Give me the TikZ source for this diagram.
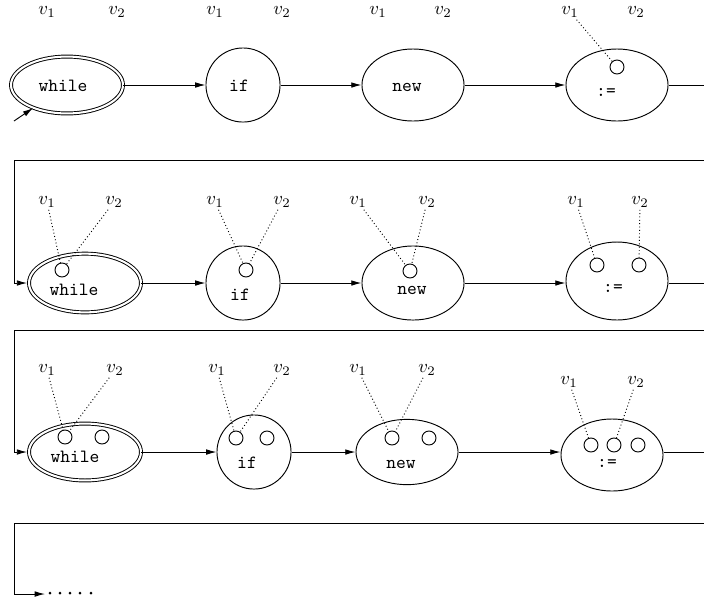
\documentclass[tikz,border=0pt]{standalone}
\usetikzlibrary{arrows.meta,shapes.geometric}
\begin{document}
\begin{tikzpicture}[x=0.536pt,y=-0.536pt,
  line width=0.5pt,
  arr/.style={-{Latex[length=5.5pt,width=3pt]}},
  stmt/.style={draw,ellipse,inner sep=0pt,minimum width=54.7pt,minimum height=38.6pt},
  loopnode/.style={draw,double,double distance=1.1pt,ellipse,inner sep=0pt,
    minimum width=60pt,minimum height=30.5pt},
  branch/.style={draw,circle,inner sep=0pt,minimum size=39.7pt},
  slot/.style={draw,circle,inner sep=0pt,minimum size=7.5pt},
  var/.style={inner sep=1pt},
  kw/.style={inner sep=0pt,font=\ttfamily},
  link/.style={dash pattern=on 0.5pt off 1.3pt}]
\useasboundingbox (0,0) rectangle (704,600);

% ---------- first row: no variables attached ----------
\node[loopnode] (w1) at (67,85) {};
\node[branch]   (i1) at (243,85) {};
\node[stmt]     (n1) at (413,85) {};
\node[stmt]     (a1) at (617,85) {};
\node[kw] (w1t) at (63,86) {while};
\node[kw] (i1t) at (239,86) {if};
\node[kw] (n1t) at (407,87) {new};
\node[kw] (a1t) at (606,92) {:=};
\node[slot] (a1s) at (617,67) {};

\node[var] (w1a) at (47,12) {$v_1$};
\node[var] (w1b) at (117,12) {$v_2$};
\node[var] (i1a) at (215,12) {$v_1$};
\node[var] (i1b) at (282,12) {$v_2$};
\node[var] (n1a) at (378,12) {$v_1$};
\node[var] (n1b) at (443,12) {$v_2$};
\node[var] (a1a) at (570,12) {$v_1$};
\node[var] (a1b) at (636,12) {$v_2$};
\draw[link] (a1a) -- (a1s);

\coordinate (s0) at (14,121);
\draw[arr] (s0) -- (w1);
\draw[arr] (w1) -- (i1);
\draw[arr] (i1) -- (n1);
\draw[arr] (n1) -- (a1);
\coordinate (r1a) at (704,85);
\draw (a1) -- (r1a);

% ---------- second row ----------
\coordinate (r1b) at (704,160);
\coordinate (l1) at (14,160);
\node[loopnode,minimum height=31.5pt] (w2) at (85,283) {};
\node[branch] (i2) at (243,283) {};
\node[stmt,minimum height=39.7pt] (n2) at (413,283) {};
\node[stmt,minimum height=41.8pt] (a2) at (617,281) {};
\node[kw] (w2t) at (74,290) {while};
\node[kw] (i2t) at (240,295) {if};
\node[kw] (n2t) at (412,290) {new};
\node[kw] (a2t) at (613,288) {:=};
\node[slot] (w2s) at (62,270) {};
\node[slot] (i2s) at (246,270) {};
\node[slot] (n2s) at (410,271) {};
\node[slot] (a2s) at (597,265) {};
\node[slot] (a2u) at (639,265) {};

\node[var] (w2a) at (47,202) {$v_1$};
\node[var] (w2b) at (114,202) {$v_2$};
\node[var] (i2a) at (215,202) {$v_1$};
\node[var] (i2b) at (282,202) {$v_2$};
\node[var] (n2a) at (358,202) {$v_1$};
\node[var] (n2b) at (427,202) {$v_2$};
\node[var] (a2a) at (576,202) {$v_1$};
\node[var] (a2b) at (640,202) {$v_2$};
\draw[link] (w2a) -- (w2s);
\draw[link] (w2b) -- (w2s);
\draw[link] (i2a) -- (i2s);
\draw[link] (i2b) -- (i2s);
\draw[link] (n2a) -- (n2s);
\draw[link] (n2b) -- (n2s);
\draw[link] (a2a) -- (a2s);
\draw[link] (a2b) -- (a2u);

\draw[arr,shorten >=0.8pt] (r1b) -- (l1) |- (w2.west);
\draw[arr] (w2) -- (i2);
\draw[arr] (i2) -- (n2);
\draw[arr] (n2) -- (a2.west |- n2.east);
\coordinate (r2a) at (704,283);
\draw (a2.east |- r2a) -- (r2a);

% ---------- third row ----------
\coordinate (r2b) at (704,330);
\coordinate (l2) at (14,330);
\node[loopnode] (w3) at (85,452) {};
\node[branch] (i3) at (254,452) {};
\node[stmt,minimum height=35pt] (n3) at (407,452) {};
\node[stmt] (a3) at (612,455) {};
\node[kw] (w3t) at (75,457) {while};
\node[kw] (i3t) at (247,463) {if};
\node[kw] (n3t) at (401,464) {new};
\node[kw] (a3t) at (607,463) {:=};
\node[slot] (w3s) at (65,437) {};
\node[slot] (w3u) at (102,437) {};
\node[slot] (i3s) at (236,438) {};
\node[slot] (i3u) at (267,438) {};
\node[slot] (n3s) at (392,438) {};
\node[slot] (n3u) at (429,438) {};
\node[slot] (a3s) at (591,445) {};
\node[slot] (a3u) at (614,445) {};
\node[slot] (a3w) at (638,445) {};

\node[var] (w3a) at (47,370) {$v_1$};
\node[var] (w3b) at (115,370) {$v_2$};
\node[var] (i3a) at (217,370) {$v_1$};
\node[var] (i3b) at (282,370) {$v_2$};
\node[var] (n3a) at (358,370) {$v_1$};
\node[var] (n3b) at (427,370) {$v_2$};
\node[var] (a3a) at (569,382) {$v_1$};
\node[var] (a3b) at (636,382) {$v_2$};
\draw[link] (w3a) -- (w3s);
\draw[link] (w3b) -- (w3s);
\draw[link] (i3a) -- (i3s);
\draw[link] (i3b) -- (i3s);
\draw[link] (n3a) -- (n3s);
\draw[link] (n3b) -- (n3s);
\draw[link] (a3a) -- (a3s);
\draw[link] (a3b) -- (a3u);

\draw[arr,shorten >=0.8pt] (r2b) -- (l2) |- (w3.west);
\draw[arr] (w3) -- (i3);
\draw[arr] (i3) -- (n3);
\draw[arr] (n3) -- (a3.west |- n3.east);
\coordinate (r3a) at (704,452);
\draw (a3.east |- r3a) -- (r3a);

% ---------- continuation ----------
\coordinate (r3b) at (704,523);
\coordinate (l3) at (14,523);
\coordinate (e3) at (45,594);
\draw[arr] (r3b) -- (l3) |- (e3);
\foreach \x in {50,60,70,80,91}
  \fill (\x,593) circle (0.8pt);
\end{tikzpicture}
\end{document}
